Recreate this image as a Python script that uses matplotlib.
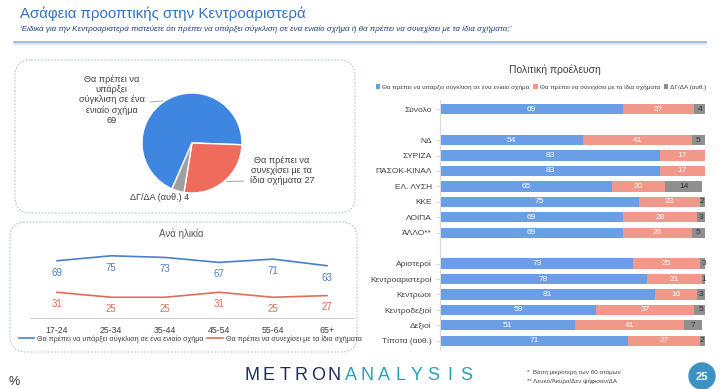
import numpy as np
import matplotlib.pyplot as plt
from matplotlib.patches import FancyBboxPatch, Circle

plt.rcParams['font.family'] = ['Liberation Sans', 'DejaVu Sans']

# Δεδομένα
pie_labels = ['Θα πρέπει να\nυπάρξει\nσύγκλιση σε ένα\nενιαίο σχήμα\n69',
              'Θα πρέπει να\nσυνεχίσει με τα\nίδια σχήματα 27',
              'ΔΓ/ΔΑ (αυθ.) 4']
pie_values = [69, 27, 4]

ages = ['17-24', '25-34', '35-44', '45-54', '55-64', '65+']
age_yes = [69, 75, 73, 67, 71, 63]
age_no = [31, 25, 25, 31, 25, 27]

groups = ['Σύνολο', 'ΝΔ', 'ΣΥΡΙΖΑ', 'ΠΑΣΟΚ-ΚΙΝΑΛ', 'ΕΛ. ΛΥΣΗ', 'ΚΚΕ', 'ΛΟΙΠΑ', 'ΆΛΛΟ**',
          'Αριστεροί', 'Κεντροαριστεροί', 'Κεντρώοι', 'Κεντροδεξιοί', 'Δεξιοί', 'Τίποτα (αυθ.)']
group_pos = [0, 2, 3, 4, 5, 6, 7, 8, 10, 11, 12, 13, 14, 15]
grp_yes = [69, 54, 83, 83, 65, 75, 69, 69, 73, 78, 81, 59, 51, 71]
grp_no = [27, 41, 17, 17, 20, 23, 28, 26, 25, 21, 16, 37, 41, 27]
grp_dk = [4, 5, 0, 0, 14, 2, 3, 5, 3, 1, 3, 5, 7, 2]

ser_names = ['Θα πρέπει να υπάρξει σύγκλιση σε ένα ενιαίο σχήμα',
             'Θα πρέπει να συνεχίσει με τα ίδια σχήματα',
             'ΔΓ/ΔΑ (αυθ.)']

W, H = 720, 389


def px(x0, y0, x1, y1):
    return [x0 / W, 1 - y1 / H, (x1 - x0) / W, (y1 - y0) / H]


fig = plt.figure(figsize=(7.2, 3.89), dpi=100)

# overlay σε pixel
ov = fig.add_axes([0, 0, 1, 1])
ov.set_xlim(0, W)
ov.set_ylim(H, 0)
ov.axis('off')

ov.text(20, 18, 'Ασάφεια προοπτικής στην Κεντροαριστερά', fontsize=10.8,
        color='#3272c0', va='baseline')
ov.text(20, 31, '‘Ειδικά για την Κεντροαριστερά πιστεύετε ότι πρέπει να υπάρξει σύγκλιση σε ένα '
        'ενιαίο σχήμα ή θα πρέπει να συνεχίσει με τα ίδια σχήματα;’', fontsize=5.8,
        color='#1f3f7a', style='italic', va='baseline')
ov.plot([14, 705], [42, 42], color='#9dbbe0', lw=2)
ov.plot([14, 705], [43.5, 43.5], color='#dfe7f1', lw=1.5)

for (x, y, w, h) in [(15, 60, 340, 153), (10, 222, 347, 130)]:
    ov.add_patch(FancyBboxPatch((x, y), w, h, boxstyle='round,pad=0,rounding_size=16',
                                fill=False, ec='#b5c3d6', lw=0.8, ls=(0, (1.5, 1.5))))

ov.text(181, 234, 'Ανά ηλικία', fontsize=7, color='#595959', ha='center', va='center')
ov.text(555, 70, 'Πολιτική προέλευση', fontsize=7.5, color='#404040', ha='center', va='center')

# footer
ov.text(14, 382, '%', fontsize=9, color='#333333', ha='center', va='center')
logo = 'METRONANALYSIS'
for i, ch in enumerate(logo):
    ov.text(252 + i * 16.5, 376, ch, fontsize=13, color='#1d2f5e' if i < 6 else '#2ba3b3',
            ha='center', va='center')
ov.text(527, 372, '*  Βάση μικρότερη των 60 ατόμων', fontsize=4.5, color='#404040', va='center')
ov.text(527, 381, '** Λευκό/Άκυρο/Δεν ψήφισαν/ΔΑ', fontsize=4.5, color='#404040', va='center')
ov.add_patch(Circle((702, 376), 13, color='#3d92c2'))
ov.text(702, 377, '25', fontsize=8, color='white', ha='center', va='center', fontweight='bold')

# πίτα
ax_pie = fig.add_axes(px(137, 88, 247, 198))
pie_colors = ['#3f86e0', '#ef6b5b', '#a0a0a0']
wedges, _ = ax_pie.pie(pie_values, colors=pie_colors, startangle=246.4, counterclock=False,
                       wedgeprops=dict(edgecolor='white', lw=1.0))
ax_pie.set_xlim(-1.1, 1.1)
ax_pie.set_ylim(-1.1, 1.1)
ax_pie.set_aspect('equal')

mids = [np.deg2rad((w.theta1 + w.theta2) / 2) for w in wedges]
ax_pie.annotate(pie_labels[0], xy=(np.cos(mids[0]), np.sin(mids[0])), xytext=(-0.95, 0.86),
                ha='right', va='center', multialignment='center', fontsize=6.6, color='#404040',
                annotation_clip=False,
                arrowprops=dict(arrowstyle='-', color='#a6a6a6', lw=0.7, relpos=(1, 0.45)))
ax_pie.annotate(pie_labels[1], xy=(np.cos(mids[1]), np.sin(mids[1])), xytext=(1.15, -0.55),
                ha='left', va='center', multialignment='center', fontsize=6.6, color='#404040',
                annotation_clip=False,
                arrowprops=dict(arrowstyle='-', color='#a6a6a6', lw=0.7, relpos=(0, 0.15)))
ax_pie.text(-0.64, -1.08, pie_labels[2], ha='center', va='center', fontsize=6.6, color='#404040')

# γραμμές ανά ηλικία
ax_line = fig.add_axes(px(30, 245, 354, 318))
x = np.arange(len(ages))
ax_line.plot(x, age_yes, color='#4a7fc9', lw=1.2, label=ser_names[0])
ax_line.plot(x, age_no, color='#e06c5c', lw=1.2, label=ser_names[1])
for xi, a, b in zip(x, age_yes, age_no):
    ax_line.annotate(str(a), (xi, a), xytext=(0, -8.5), textcoords='offset points',
                     ha='center', va='center', fontsize=7, color='#4a7fc9')
    ax_line.annotate(str(b), (xi, b), xytext=(0, -8.5), textcoords='offset points',
                     ha='center', va='center', fontsize=7, color='#e06c5c')
ax_line.set_xlim(-0.5, 5.5)
ax_line.set_ylim(0, 88)
ax_line.set_xticks(x)
ax_line.set_xticklabels(ages, fontsize=6.3, color='#404040')
ax_line.tick_params(axis='x', length=0, pad=6)
ax_line.set_yticks([])
for s in ['top', 'right', 'left']:
    ax_line.spines[s].set_visible(False)
ax_line.spines['bottom'].set_color('#d0d0d0')
ax_line.patch.set_alpha(0)
ax_line.legend(loc='center', bbox_to_anchor=(190 / W, 1 - 339 / H), bbox_transform=fig.transFigure,
               ncol=2, fontsize=5.1, frameon=False, handlelength=2.2, columnspacing=0.5,
               handletextpad=0.4, labelcolor='#404040')

# μπάρες
ax_bar = fig.add_axes(px(440, 100, 705, 350))
bar_colors = ['#6a9ee6', '#f2988a', '#8f8f8f']
yes = np.array(grp_yes)
no = np.array(grp_no)
dk = np.array(grp_dk)
h = 0.66
ax_bar.barh(group_pos, yes, height=h, color=bar_colors[0], label=ser_names[0])
ax_bar.barh(group_pos, no, left=yes, height=h, color=bar_colors[1], label=ser_names[1])
ax_bar.barh(group_pos, dk, left=yes + no, height=h, color=bar_colors[2], label=ser_names[2])
for p, a, b, c in zip(group_pos, yes, no, dk):
    ax_bar.text(a / 2, p, str(a), ha='center', va='center', fontsize=6, color='white')
    ax_bar.text(a + b / 2, p, str(b), ha='center', va='center', fontsize=6, color='white')
    if c > 0:
        ax_bar.text(a + b + c / 2, p, str(c), ha='center', va='center', fontsize=6, color='#333333')
ax_bar.set_xlim(0, 100)
ax_bar.set_ylim(15.6, -0.6)
ax_bar.set_yticks(group_pos)
ax_bar.set_yticklabels(groups, fontsize=6, color='#404040')
ax_bar.tick_params(axis='y', length=3, color='#d9d9d9', pad=3)
ax_bar.set_xticks([])
for s in ['top', 'right', 'bottom']:
    ax_bar.spines[s].set_visible(False)
ax_bar.spines['left'].set_color('#d9d9d9')
ax_bar.patch.set_alpha(0)
ax_bar.legend(loc='center', bbox_to_anchor=(541 / W, 1 - 87 / H), bbox_transform=fig.transFigure,
              ncol=3, fontsize=4.6, frameon=False, handlelength=0.7, handleheight=0.7,
              columnspacing=0.6, handletextpad=0.3, labelcolor='#404040')

fig.savefig('out.png', dpi=100)
